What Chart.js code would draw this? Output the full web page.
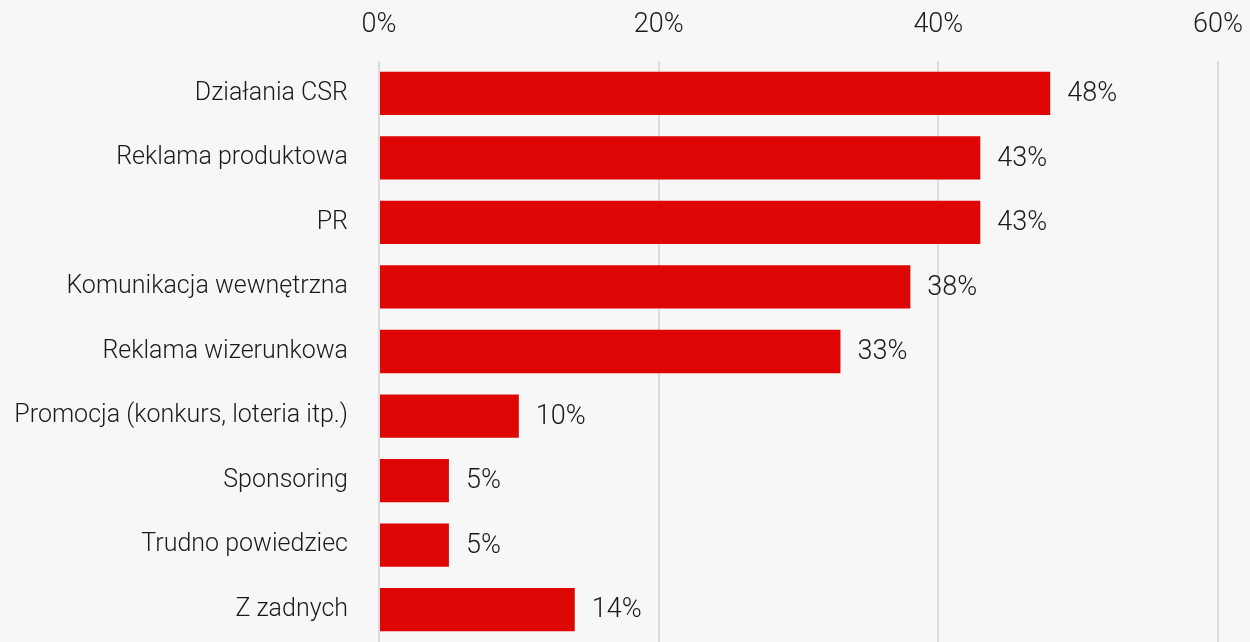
<!DOCTYPE html>
<html>
<head>
<meta charset="utf-8">
<script src="https://cdn.jsdelivr.net/npm/chart.js@4/dist/chart.umd.min.js"></script>
<style>
  html, body { margin: 0; padding: 0; background: #f7f7f7; overflow: hidden; }
  canvas { display: block; }
</style>
</head>
<body>
<canvas id="c" width="1250" height="642"></canvas>
<script>
// Categories and their shares (%)
const categories = [
  'Działania CSR',
  'Reklama produktowa',
  'PR',
  'Komunikacja wewnętrzna',
  'Reklama wizerunkowa',
  'Promocja (konkurs, loteria itp.)',
  'Sponsoring',
  'Trudno powiedziec',
  'Z zadnych'
];
const shares = [48, 43, 43, 38, 33, 10, 5, 5, 14];
const axisTicks = [0, 20, 40, 60];

const FONT = 'Roboto, "Liberation Sans", sans-serif';

// Draws the value text to the right of each bar
const valueLabels = {
  id: 'valueLabels',
  afterDatasetsDraw(chart) {
    const ctx = chart.ctx;
    const meta = chart.getDatasetMeta(0);
    ctx.save();
    ctx.font = '300 27px ' + FONT;
    ctx.fillStyle = '#1a1a1a';
    ctx.textAlign = 'left';
    ctx.textBaseline = 'middle';
    meta.data.forEach((bar, i) => {
      ctx.fillText(shares[i] + '%', bar.x + 17, bar.y + 1);
    });
    ctx.restore();
  }
};

new Chart(document.getElementById('c'), {
  type: 'bar',
  data: {
    labels: categories,
    datasets: [{
      data: shares,
      backgroundColor: '#de0505',
      borderWidth: 0,
      barPercentage: 0.67,
      categoryPercentage: 1
    }]
  },
  options: {
    indexAxis: 'y',
    responsive: false,
    animation: false,
    layout: { padding: { left: 0, right: 32, top: 0, bottom: -2 } },
    plugins: { legend: { display: false }, tooltip: { enabled: false } },
    scales: {
      x: {
        position: 'top',
        min: 0,
        max: 60,
        afterBuildTicks(scale) { scale.ticks = axisTicks.map(v => ({ value: v })); },
        afterFit(scale) {
          scale.height = 61;
          scale.paddingLeft = 0;
          scale.paddingRight = 0;
        },
        ticks: {
          callback: v => v + '%',
          color: '#1a1a1a',
          font: { family: FONT, size: 27, weight: 300 },
          padding: 20,
          maxRotation: 0
        },
        grid: { color: '#dcdcdc', lineWidth: 2, drawTicks: false },
        border: { display: false }
      },
      y: {
        afterFit(scale) {
          scale.width = 379;
          scale.paddingTop = 0;
          scale.paddingBottom = 0;
        },
        ticks: {
          color: '#1a1a1a',
          font: { family: FONT, size: 25, weight: 300 },
          padding: 31
        },
        grid: { display: false, drawTicks: false },
        border: { display: false }
      }
    }
  },
  plugins: [valueLabels]
});
</script>
</body>
</html>
